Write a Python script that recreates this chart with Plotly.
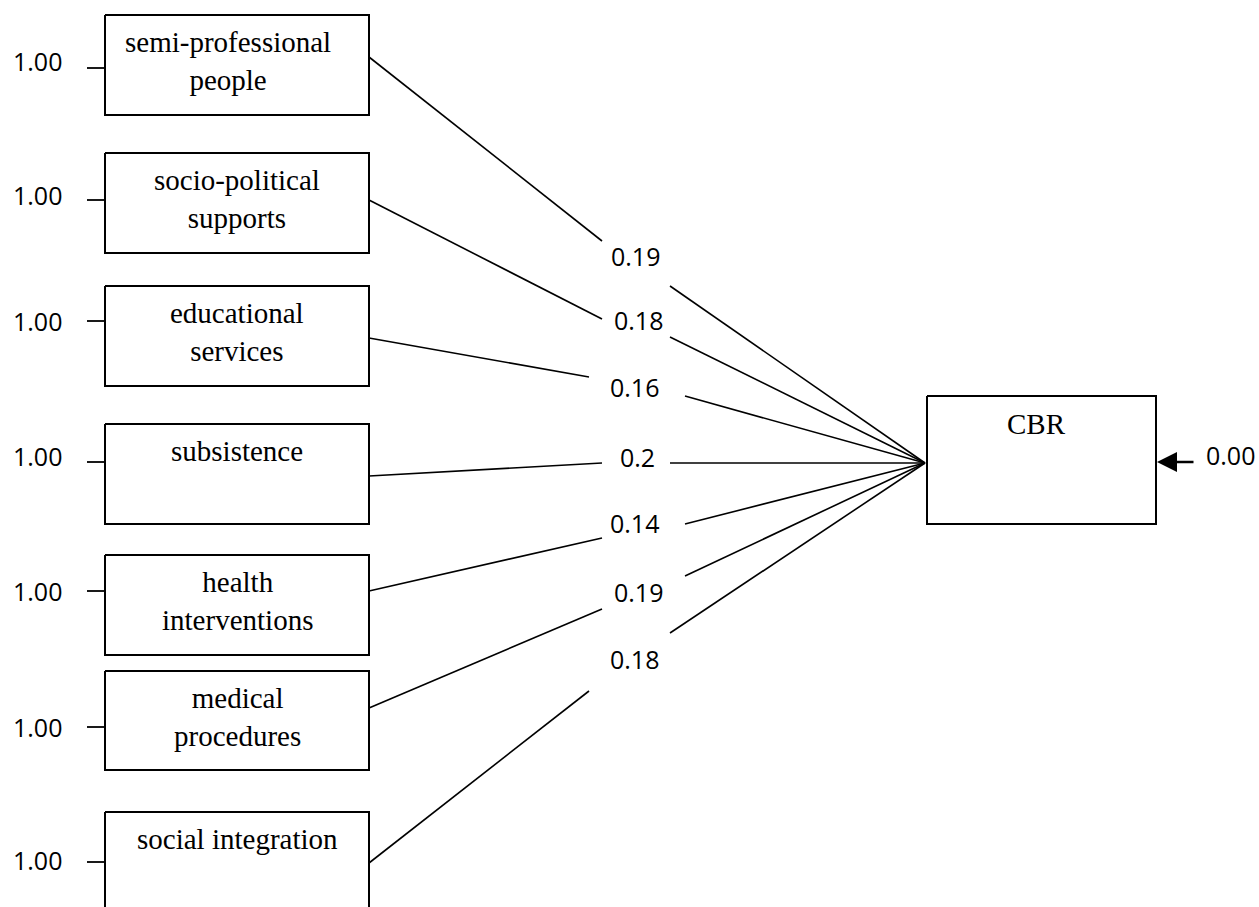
import plotly.graph_objects as go

# ---------------- data ----------------
factors = ["semi-professional<br>people", "socio-political<br>supports", "educational<br>services",
           "subsistence", "health<br>interventions", "medical<br>procedures", "social integration"]
loadings = [1.00, 1.00, 1.00, 1.00, 1.00, 1.00, 1.00]
path_coefs = [0.19, 0.18, 0.16, 0.2, 0.14, 0.19, 0.18]
outcome = "CBR"
outcome_error = 0.00

# ---------------- layout geometry (pixel units of the diagram) ----------------
W, H = 1259, 907
box_left, box_right = 105, 369
box_tops = [15, 153, 286, 424, 555, 671, 812]
box_bottoms = [115, 253, 386, 524, 655, 770, 918]
label_x = [228, 237, 237, 237, 237, 237, 237]
stub_y = [68, 200, 321, 462, 591, 727, 862]
loading_y = [61, 195, 321, 456, 591, 727, 860]
path_start_y = [57, 200, 338, 476, 591, 708, 863]
break1 = [(602, 241), (602, 319), (589, 377), (602, 463), (602, 538), (602, 609), (589, 691)]
break2 = [(670, 286), (670, 337), (685, 396), (670, 463), (685, 524), (685, 576), (670, 633)]
coef_pos = [(635, 256), (638, 320), (634, 387), (637, 457), (634, 523), (638, 592), (634, 659)]
cbr_box = (927, 1156, 396, 524)
hub = (925, 463)

serif = "Liberation Serif, Times New Roman, serif"
sans = "Open Sans, Noto Sans, sans-serif"

fig = go.Figure()
annotations = []

for i, name in enumerate(factors):
    t, b = box_tops[i], box_bottoms[i]
    # box
    fig.add_trace(go.Scatter(x=[box_left, box_right, box_right, box_left, box_left],
                             y=[t, t, b, b, t], mode="lines",
                             line=dict(color="black", width=2), hoverinfo="skip", showlegend=False))
    # stub for loading
    fig.add_trace(go.Scatter(x=[87, box_left], y=[stub_y[i], stub_y[i]], mode="lines",
                             line=dict(color="black", width=1.8), hoverinfo="skip", showlegend=False))
    # path line with a break for the coefficient label
    fig.add_trace(go.Scatter(x=[box_right, break1[i][0], None, break2[i][0], hub[0]],
                             y=[path_start_y[i], break1[i][1], None, break2[i][1], hub[1]],
                             mode="lines", line=dict(color="black", width=1.6),
                             hoverinfo="skip", showlegend=False, connectgaps=False))
    annotations.append(dict(x=label_x[i], y=t + 9, text=name, showarrow=False,
                            xanchor="center", yanchor="top", align="center",
                            font=dict(family=serif, size=29, color="black")))
    annotations.append(dict(x=37, y=loading_y[i], text=f"{loadings[i]:.2f}", showarrow=False,
                            xanchor="center", yanchor="middle",
                            font=dict(family=sans, size=25, color="black")))
    annotations.append(dict(x=coef_pos[i][0], y=coef_pos[i][1], text=f"{path_coefs[i]:g}",
                            showarrow=False, xanchor="center", yanchor="middle",
                            font=dict(family=sans, size=25, color="black")))

# outcome box
l, r, t, b = cbr_box
fig.add_trace(go.Scatter(x=[l, r, r, l, l], y=[t, t, b, b, t], mode="lines",
                         line=dict(color="black", width=2), hoverinfo="skip", showlegend=False))
annotations.append(dict(x=1036, y=t + 10, text=outcome, showarrow=False, xanchor="center",
                        yanchor="top", font=dict(family=serif, size=29, color="black")))
# error arrow
annotations.append(dict(x=r + 1, y=462, ax=1195, ay=462, axref="x", ayref="y", xref="x", yref="y",
                        showarrow=True, arrowhead=2, arrowsize=1.6, arrowwidth=2.5,
                        arrowcolor="black", text=""))
annotations.append(dict(x=1204, y=455, text=f"{outcome_error:.2f}", showarrow=False,
                        xanchor="left", yanchor="middle",
                        font=dict(family=sans, size=25, color="black")))

fig.update_layout(
    width=W, height=H, autosize=False,
    margin=dict(l=0, r=0, t=0, b=0),
    paper_bgcolor="white", plot_bgcolor="white",
    xaxis=dict(range=[0, W], visible=False, fixedrange=True),
    yaxis=dict(range=[H, 0], visible=False, fixedrange=True),
    annotations=annotations,
    showlegend=False,
)

fig.write_html("out.html", config={"displayModeBar": False, "staticPlot": True},
               post_script="document.body.style.margin='0px';document.body.style.overflow='hidden';")
